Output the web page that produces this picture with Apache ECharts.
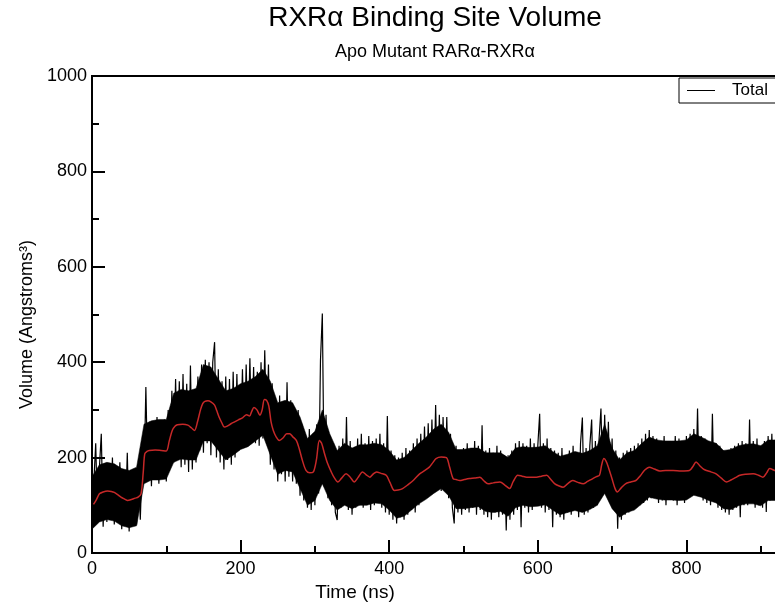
<!DOCTYPE html>
<html>
<head>
<meta charset="utf-8">
<script src="https://cdn.jsdelivr.net/npm/echarts@6/dist/echarts.min.js"></script>
<style>html,body{margin:0;padding:0;background:#fff;}#c{width:775px;height:604px;}</style>
</head>
<body>
<div id="c"></div>
<script>
// Raw volume samples, one every 2.5 ns starting at 0 ns
var rawStep = 2.5;
var rawVolume = [
40,150,230,70,180,250,55,175,
65,185,80,200,60,170,90,190,
50,165,75,210,45,160,70,175,
60,175,70,190,150,348,155,275,
140,270,170,285,145,260,160,280,
150,300,180,340,190,365,200,360,
180,375,185,355,170,393,175,340,
190,370,215,395,210,405,230,400,
205,400,442,200,385,190,360,175,
370,195,365,185,380,200,375,215,
230,385,225,395,240,408,235,390,
230,380,225,400,240,425,245,395,
185,356,175,320,150,330,165,310,
150,358,160,320,150,305,145,300,
120,270,110,245,95,260,90,250,
100,270,125,404,502,140,290,115,
245,100,230,85,69,225,95,240,
105,285,90,235,80,220,95,240,
100,250,95,230,105,245,90,235,
100,240,110,250,95,230,85,287,
80,215,70,205,62,200,75,210,
70,220,80,215,90,230,85,240,
100,250,110,265,120,272,125,280,
130,310,135,290,130,285,140,285,
115,250,95,62,225,85,215,80,
220,90,230,85,210,95,235,80,
225,90,268,80,215,75,220,70,
210,85,225,75,215,80,205,47,
205,70,215,80,230,90,235,54,
230,95,225,85,240,90,230,100,
225,292,95,230,85,240,90,220,
54,215,80,210,75,220,70,205,
85,215,80,225,90,210,75,230,
284,80,220,85,225,280,95,235,
100,240,303,130,290,140,275,110,
240,95,215,51,200,70,210,80,
215,85,220,90,225,95,230,100,
240,105,250,110,258,115,245,120,
240,105,235,110,245,100,230,115,
235,110,245,100,240,115,230,105,
245,115,250,120,260,125,303,120,
245,110,240,105,235,100,292,110,
230,95,225,90,215,85,210,80,
220,90,225,95,230,75,235,100,
230,100,280,105,235,95,240,100,
225,95,235,86,245,110,250,115,
240,110,245,105,235,115,240,110
];
// Dense (solid black) core of the raw trace, lower and upper edge every 10 ns
var coreStep = 10;
var coreLow = [50,65,70,67,57,53,57,145,153,153,155,190,197,195,195,235,235,215,195,205,217,223,235,247,205,165,173,170,135,100,110,145,110,90,100,93,100,100,105,103,90,73,77,90,103,113,125,135,120,93,93,95,97,87,85,87,77,95,100,97,98,101,90,80,85,89,85,91,100,125,93,75,85,90,103,117,113,111,111,110,111,121,117,110,105,93,91,99,103,103,99,110,110,107];
var coreHigh = [160,185,190,187,177,173,180,270,277,280,280,335,343,340,345,395,390,365,340,345,355,360,370,385,360,315,320,315,285,240,255,300,250,215,230,220,227,227,230,227,215,195,200,215,230,243,260,270,253,217,217,220,220,210,210,210,200,220,223,221,222,225,213,203,207,213,209,215,225,270,220,195,210,215,230,243,237,235,235,235,237,250,243,235,230,215,217,225,228,229,225,237,237,233];
// Running average (red)
var avgTime = [2,6,10,15,21,26,30,35,39,44,48,53,58,62,66,69,71,74,77,85,93,100,104,108,112,115,122,129,134,138,142,146,149,152,156,160,165,168,171,175,178,182,187,192,197,203,208,212,215,218,222,226,229,232,235,238,241,244,248,252,257,262,266,270,275,279,283,288,293,298,302,306,309,313,317,322,326,331,336,342,347,353,358,364,369,374,378,383,389,396,401,407,412,418,425,433,441,447,454,459,463,470,477,481,486,490,495,501,508,515,522,527,533,540,549,556,562,567,573,579,585,591,598,605,612,617,623,628,634,640,647,654,661,667,674,679,683,686,689,692,695,700,704,707,712,718,725,732,738,744,750,757,764,772,782,793,804,809,813,818,823,827,833,840,847,854,860,866,872,880,890,897,903,908,912,919,925];
var avgVolume = [102,112,124,128,130,129,127,122,117,113,110,112,115,117,124,170,208,213,215,216,215,214,235,257,266,269,270,268,262,257,275,300,313,318,319,317,310,298,285,272,264,266,271,275,279,284,290,287,297,305,300,289,300,322,320,308,275,257,243,236,241,250,250,244,236,218,195,173,168,170,195,236,230,208,188,170,158,149,157,166,160,149,158,170,164,159,165,170,167,163,148,131,132,135,143,153,166,172,180,190,198,201,200,182,156,154,152,154,156,157,159,152,145,147,149,142,135,150,163,161,159,159,159,161,163,155,145,141,138,145,152,148,145,150,156,160,163,185,198,192,180,155,135,128,136,145,149,152,162,174,180,176,172,173,173,172,173,182,191,183,176,173,170,166,157,149,153,158,163,165,166,163,159,168,177,173,170];
var xTicks = {min: 0, max: 1000, interval: 200};
var yTicks = {min: 0, max: 1000, interval: 200};

var rawData = rawVolume.map(function (v, i) { return [i * rawStep, v]; });
var coreData = coreLow.map(function (v, i) { return [i * coreStep, v, coreHigh[i]]; });
var avgData = avgTime.map(function (t, i) { return [t, avgVolume[i]]; });

function renderCore(params, api) {
  if (params.dataIndex !== 0) return null;
  var pts = [], i;
  for (i = 0; i < coreData.length; i++) pts.push(api.coord([coreData[i][0], coreData[i][2]]));
  for (i = coreData.length - 1; i >= 0; i--) pts.push(api.coord([coreData[i][0], coreData[i][1]]));
  return {type: 'polygon', shape: {points: pts}, style: {fill: '#000', stroke: '#000', lineWidth: 0.5}};
}

var chart = echarts.init(document.getElementById('c'), null, {renderer: 'canvas'});
var font = 'Liberation Sans, Arial, Helvetica, sans-serif';
var plain = function (v) { return String(v); };
chart.setOption({
  animation: false,
  backgroundColor: '#fff',
  textStyle: {fontFamily: font, color: '#000'},
  title: [
    {text: 'RXRα Binding Site Volume', left: 435, top: 4, textAlign: 'center', padding: 0,
     textStyle: {fontFamily: font, fontSize: 28, fontWeight: 'normal', color: '#000'}},
    {text: 'Apo Mutant RARα-RXRα', left: 435, top: 43, textAlign: 'center', padding: 0,
     textStyle: {fontFamily: font, fontSize: 18, fontWeight: 'normal', color: '#000'}}
  ],
  legend: {
    data: ['Total'],
    left: 679, top: 78,
    padding: [4, 40, 4, 8],
    borderColor: '#000', borderWidth: 1, borderRadius: 0,
    backgroundColor: '#fff',
    itemWidth: 28, itemHeight: 1,
    icon: 'path://M0 0H28V1H0Z',
    textStyle: {fontFamily: font, fontSize: 17, color: '#000', padding: [0, 0, 0, 12]}
  },
  grid: {left: 92, top: 76, width: 743, height: 477, outerBoundsMode: 'none', containLabel: false,
         show: true, borderColor: '#000', borderWidth: 2, backgroundColor: 'transparent'},
  xAxis: {
    type: 'value', min: xTicks.min, max: xTicks.max, interval: xTicks.interval,
    name: 'Time (ns)', nameLocation: 'middle', nameGap: 24,
    nameTextStyle: {fontFamily: font, fontSize: 19, color: '#000', padding: [0, 217, 0, 0]},
    axisLine: {show: true, lineStyle: {color: '#000', width: 2}},
    axisTick: {show: true, inside: true, length: 13, lineStyle: {color: '#000', width: 2}},
    minorTick: {show: true, splitNumber: 2, length: 7, lineStyle: {color: '#000', width: 2}},
    axisLabel: {fontFamily: font, fontSize: 18, color: '#000', margin: 7, formatter: plain},
    splitLine: {show: false}
  },
  yAxis: {
    type: 'value', min: yTicks.min, max: yTicks.max, interval: yTicks.interval,
    name: 'Volume (Angstroms³)', nameLocation: 'middle', nameGap: 55,
    nameTextStyle: {fontFamily: font, fontSize: 18, color: '#000', padding: [0, 20, 0, 0]},
    axisLine: {show: true, lineStyle: {color: '#000', width: 2}},
    axisTick: {show: true, inside: true, length: 13, lineStyle: {color: '#000', width: 2}},
    minorTick: {show: true, splitNumber: 2, length: 7, lineStyle: {color: '#000', width: 2}},
    axisLabel: {fontFamily: font, fontSize: 18, color: '#000', margin: 5, formatter: plain},
    splitLine: {show: false}
  },
  series: [
    {name: 'core', type: 'custom', data: coreData, encode: {x: 0, y: [1, 2]},
     renderItem: renderCore, clip: true, silent: true, z: 1},
    {name: 'Total', type: 'line', data: rawData, showSymbol: false, symbol: 'none',
     lineStyle: {color: '#000', width: 1.2}, itemStyle: {color: '#000'}, z: 2},
    {name: 'Average', type: 'line', data: avgData, showSymbol: false, symbol: 'none', smooth: 0.3,
     lineStyle: {color: '#c62828', width: 1.5}, itemStyle: {color: '#c62828'}, z: 3}
  ]
});
</script>
</body>
</html>
